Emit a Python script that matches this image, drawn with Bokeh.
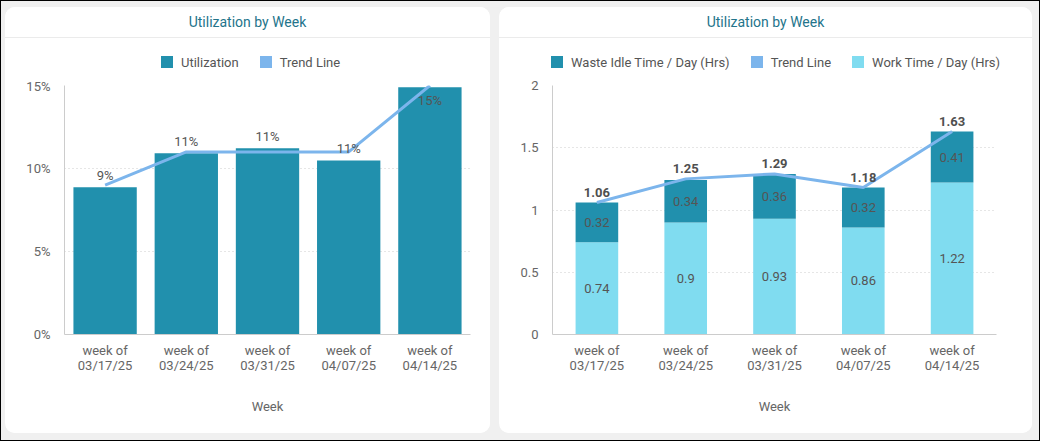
from bokeh.plotting import figure
from bokeh.models import (ColumnDataSource, FixedTicker, Div,
                          FactorRange, Range1d, CustomJSTickFormatter)
from bokeh.layouts import row, column
from bokeh.embed import file_html
from bokeh.resources import INLINE
from bokeh.core.properties import value

# ---------------- data ----------------
weeks = ["week of\n03/17/25", "week of\n03/24/25", "week of\n03/31/25",
         "week of\n04/07/25", "week of\n04/14/25"]

utilization = [0.0887, 0.1092, 0.1122, 0.1048, 0.1490]
util_trend = [0.09, 0.11, 0.11, 0.11, 0.15]
util_ticks = [0, 0.05, 0.10, 0.15]

work_time = [0.74, 0.90, 0.93, 0.86, 1.22]
waste_idle = [0.32, 0.34, 0.36, 0.32, 0.41]
total_time = [1.06, 1.25, 1.29, 1.18, 1.63]
hours_ticks = [0, 0.5, 1, 1.5, 2]

chart_title = "Utilization by Week"
legend_left = ["Utilization", "Trend Line"]
legend_right = ["Waste Idle Time / Day (Hrs)", "Trend Line", "Work Time / Day (Hrs)"]

# ---------------- style ----------------
TEAL = "#2190ad"
TREND = "#7cb5ec"
CYAN = "#80dcf0"
TITLE_C = "#23748b"
AXIS_TXT = "#666666"
LBL = "#555555"
GRID = "#cccccc"
FONT = "Roboto"

PAGE_W, PAGE_H = 1040, 441
TITLE_H = 31
LEG_H = 40
FIG_H = 355
FRAME_TOP = 7
MIN_BOTTOM = 99
FRAME_H = FIG_H - FRAME_TOP - MIN_BOTTOM


def style_axes(p, ticks, fmt_code):
    p.xaxis.axis_label = "Week"
    for ax in (p.xaxis, p.yaxis):
        ax.axis_line_color = GRID
        ax.major_tick_line_color = None
        ax.minor_tick_line_color = None
        ax.major_tick_out = 0
        ax.major_tick_in = 0
        ax.major_label_text_font = FONT
        ax.major_label_text_font_size = "13px"
        ax.major_label_text_color = AXIS_TXT
        ax.axis_label_text_font = FONT
        ax.axis_label_text_font_size = "13px"
        ax.axis_label_text_font_style = "normal"
        ax.axis_label_text_color = AXIS_TXT
    p.xaxis.major_label_text_line_height = 1.05
    p.xaxis.major_label_standoff = 8
    p.xaxis.axis_label_standoff = 23
    p.yaxis.major_label_standoff = 14
    p.yaxis.ticker = FixedTicker(ticks=ticks)
    p.yaxis.formatter = CustomJSTickFormatter(code=fmt_code)
    p.xgrid.grid_line_color = None
    p.ygrid.grid_line_color = GRID
    p.ygrid.grid_line_dash = "1 3"
    p.ygrid.ticker = FixedTicker(ticks=ticks[1:])


def legend_div(width, labels, colors, x_left):
    parts = []
    for i, (label, color) in enumerate(zip(labels, colors)):
        gap = 0 if i == len(labels) - 1 else 21
        parts.append(
            f'<span style="display:inline-block;width:12px;height:12px;'
            f'background:{color};margin-right:8px;vertical-align:-1px"></span>'
            f'<span style="margin-right:{gap}px">{label}</span>')
    html = (f'<div style="white-space:nowrap;padding-left:{x_left}px;'
            f'padding-top:17px;font-family:{FONT};font-size:13px;color:{LBL};'
            f'line-height:16px">' + "".join(parts) + "</div>")
    return Div(text=html, width=width, height=LEG_H, margin=0,
               styles={"background-color": "white"})


def title_div(width):
    return Div(text=chart_title, width=width, height=TITLE_H, margin=0,
               styles={"text-align": "center", "font-family": FONT,
                       "font-size": "14px", "color": TITLE_C,
                       "line-height": "30px", "border-bottom": "1px solid #ebebeb",
                       "box-sizing": "border-box", "background-color": "white"})


def base_figure(width, left, right, ymax):
    return figure(x_range=FactorRange(*weeks), y_range=Range1d(0, ymax),
                  width=width, height=FIG_H, output_backend="svg",
                  toolbar_location=None, title=None, margin=0,
                  min_border_left=left, min_border_right=right,
                  min_border_top=FRAME_TOP, min_border_bottom=MIN_BOTTOM,
                  border_fill_color="white", background_fill_color="white",
                  outline_line_color=None)


# ---------------- left chart ----------------
ymax1 = util_ticks[-1]
off1 = []
for v in utilization:
    above = v + 18.0 / FRAME_H * ymax1
    off1.append(-12 if above <= ymax1 else 13)

src1 = ColumnDataSource(dict(week=weeks, util=utilization, trend=util_trend,
                             label=[f"{t * 100:.0f}%" for t in util_trend],
                             off=off1))

W1 = 485
p1 = base_figure(W1, 59, 20, ymax1)
p1.vbar(x="week", top="util", source=src1, width=0.78,
        fill_color=TEAL, line_color=None)
p1.line(x="week", y="trend", source=src1, line_color=TREND, line_width=3)
p1.text(x="week", y="util", text="label", source=src1, y_offset="off",
        text_align="center", text_baseline="middle", text_font=value(FONT),
        text_font_size="13px", text_color=LBL)
style_axes(p1, util_ticks, "return Math.round(tick*100) + '%';")
leg1 = legend_div(W1, legend_left, [TEAL, TREND], 156)

# ---------------- right chart ----------------
src2 = ColumnDataSource(dict(
    week=weeks, work=work_time, waste=waste_idle, total=total_time,
    work_mid=[w / 2 for w in work_time],
    waste_mid=[w + s / 2 for w, s in zip(work_time, waste_idle)],
    work_lbl=[f"{w:g}" for w in work_time],
    waste_lbl=[f"{s:g}" for s in waste_idle],
    total_lbl=[f"{t:.2f}" for t in total_time]))

W2 = 533
p2 = base_figure(W2, 53, 36, hours_ticks[-1])
p2.vbar_stack(["work", "waste"], x="week", source=src2, width=0.48,
              fill_color=[CYAN, TEAL], line_color=None)
p2.line(x="week", y="total", source=src2, line_color=TREND, line_width=3)
for ycol, tcol in (("work_mid", "work_lbl"), ("waste_mid", "waste_lbl")):
    p2.text(x="week", y=ycol, text=tcol, source=src2, text_align="center",
            text_baseline="middle", text_font=value(FONT),
            text_font_size="13px", text_color=LBL)
p2.text(x="week", y="total", text="total_lbl", source=src2, y_offset=-10,
        text_align="center", text_baseline="middle", text_font=value(FONT),
        text_font_size="13px", text_font_style="bold", text_color="#4f4f4f")
style_axes(p2, hours_ticks, "return tick.toString();")
leg2 = legend_div(W2, legend_right, [TEAL, TREND, CYAN], 52)

# ---------------- layout ----------------
card_styles = {"background-color": "white", "border-radius": "10px",
               "overflow": "hidden"}
card1 = column(title_div(W1), leg1, p1, spacing=0, margin=0, styles=card_styles)
card2 = column(title_div(W2), leg2, p2, spacing=0, margin=0, styles=card_styles)
root = row(card1, card2, spacing=9, width=PAGE_W, height=PAGE_H, margin=0,
           styles={"background-color": "#f0f0f0", "border": "1px solid #000",
                   "padding": "6px 7px 7px 4px", "box-sizing": "border-box"})

open("out.html", "w").write(file_html(root, INLINE))
